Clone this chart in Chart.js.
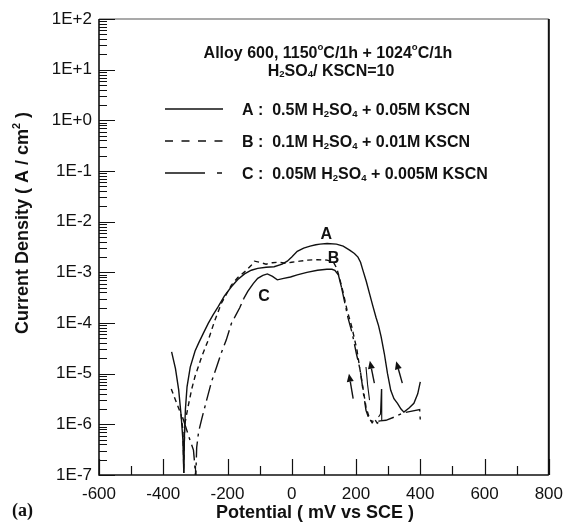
<!DOCTYPE html>
<html>
<head>
<meta charset="utf-8">
<script src="https://cdn.jsdelivr.net/npm/chart.js@4.4.0/dist/chart.umd.min.js"></script>
<style>
  html, body { margin: 0; padding: 0; background: #fff; }
  #wrap { width: 572px; height: 525px; }
</style>
</head>
<body>
<div id="wrap"><canvas id="polChart" width="572" height="525"></canvas></div>
<script>
// Potential (mV vs SCE) and current density (A/cm2)
const potentialA = [-374, -362, -352, -344, -339, -336, -334, -331, -326, -316,
  -301, -290, -275, -260, -245, -229, -210, -188, -168, -147,
  -126, -106, -80, -55, -30, -14, 0, 17, 37, 57,
  75, 88, 110, 139, 160, 180, 195, 206, 214, 221,
  232, 242, 252, 262, 270, 278, 288, 298, 308, 318,
  329, 340, 349, 365, 380, 392, 400];
const currentA = [2.7e-5, 1.26e-5, 4.8e-6, 1.4e-6, 5.0e-7, 1.1e-7, 6.3e-7, 2.0e-6, 5.5e-6, 1.35e-5,
  2.8e-5, 4.0e-5, 6.3e-5, 9.8e-5, 1.45e-4, 2.1e-4, 3.4e-4, 5.2e-4, 7.2e-4, 9.3e-4,
  1.1e-3, 1.2e-3, 1.26e-3, 1.29e-3, 1.45e-3, 1.66e-3, 2.0e-3, 2.6e-3, 3.0e-3, 3.3e-3,
  3.5e-3, 3.6e-3, 3.7e-3, 3.6e-3, 3.3e-3, 2.75e-3, 2.35e-3, 2.0e-3, 1.58e-3, 1.12e-3,
  6.6e-4, 3.8e-4, 2.2e-4, 1.3e-4, 8.9e-5, 5.4e-5, 2.5e-5, 1.0e-5, 4.7e-6, 3.2e-6,
  2.6e-6, 2.0e-6, 1.74e-6, 2.1e-6, 2.6e-6, 4.0e-6, 6.9e-6];

const potentialB = [-375, -366, -357, -345, -339, -337, -336, -335, -333, -323,
  -311, -301, -280, -260, -239, -219, -188, -168, -147, -126,
  -116, -100, -80, -60, -40, -20, 0, 25, 50, 80,
  110, 130, 140, 150, 160, 172, 187, 203, 211, 221,
  231, 242, 250, 258, 266, 275];
const currentB = [5.0e-6, 3.5e-6, 2.5e-6, 1.6e-6, 7.9e-7, 2.5e-7, 1.1e-7, 3.2e-7, 1.0e-6, 2.2e-6,
  5.1e-6, 8.9e-6, 2.2e-5, 4.6e-5, 1.15e-4, 2.45e-4, 5.6e-4, 7.9e-4, 1.02e-3, 1.38e-3,
  1.66e-3, 1.58e-3, 1.45e-3, 1.55e-3, 1.58e-3, 1.51e-3, 1.58e-3, 1.66e-3, 1.74e-3, 1.78e-3,
  1.74e-3, 1.58e-3, 1.2e-3, 7.1e-4, 4.0e-4, 1.8e-4, 8.3e-5, 2.9e-5, 1.35e-5, 5.5e-6,
  2.2e-6, 1.3e-6, 1.07e-6, 1.26e-6, 1.05e-6, 1.17e-6];

const potentialC = [-340, -330, -320, -312, -306, -302, -299, -296, -290, -280,
  -265, -250, -234, -220, -204, -188, -175, -162, -150, -137,
  -120, -106, -90, -76, -60, -45, -25, -4, 17, 47,
  80, 109, 125, 134, 145, 155, 165, 175, 188, 201,
  213, 223, 231, 242, 260, 275, 293, 320, 344, 370,
  398, 400];
const currentC = [1.38e-6, 8.9e-7, 5.6e-7, 4.0e-7, 3.1e-7, 1.6e-7, 8e-8, 3.5e-7, 7.1e-7, 1.3e-6,
  3.0e-6, 6.9e-6, 1.35e-5, 2.5e-5, 4.6e-5, 9.8e-5, 1.4e-4, 2.0e-4, 3.0e-4, 4.2e-4,
  6.0e-4, 7.6e-4, 8.7e-4, 9.3e-4, 8.3e-4, 7.1e-4, 7.6e-4, 8.1e-4, 8.9e-4, 1.0e-3,
  1.1e-3, 1.15e-3, 1.15e-3, 1.1e-3, 8.9e-4, 5.0e-4, 2.5e-4, 1.26e-4, 6.3e-5, 2.5e-5,
  1.17e-5, 4.1e-6, 1.9e-6, 1.2e-6, 1.12e-6, 1.17e-6, 1.2e-6, 1.4e-6, 1.66e-6, 1.8e-6,
  1.95e-6, 1.2e-6];

// short reverse-scan strokes near the bottom of the loops (null = break)
const potentialRev = [231, 236, 242, null, 270, 276, 279, 280];
const currentRev = [1.35e-5, 6.0e-6, 3.0e-6, null, 1.4e-6, 1.6e-6, 5.0e-6, 1.2e-6];

// axis ticks
const xTicks = [-600, -400, -200, 0, 200, 400, 600, 800];
const yTicks = [1e-7, 1e-6, 1e-5, 1e-4, 1e-3, 1e-2, 1e-1, 1e0, 1e1, 1e2];
const yTickLabels = ['1E-7', '1E-6', '1E-5', '1E-4', '1E-3', '1E-2', '1E-1', '1E+0', '1E+1', '1E+2'];

// curve letters and scan-direction arrows, in data units
const curveNames = ['A', 'B', 'C'];
const nameE = [107, 130, -86];
const nameI = [5.5e-3, 1.9e-3, 3.3e-4];
const arrowTailE = [191, 257, 344];
const arrowTailI = [3.2e-6, 6.5e-6, 6.5e-6];
const arrowHeadE = [178, 243, 325];
const arrowHeadI = [1.0e-5, 1.8e-5, 1.75e-5];

const ink = '#111';
const sans = '"Liberation Sans", Arial, Helvetica, sans-serif';
const dashB = [5, 4];
const dashC = [16, 5, 3, 5];

function pts(xs, ys) {
  return xs.map((x, i) => ({ x: x, y: ys[i] }));
}

// text with super (1) / subscript (-1) pieces
function richWidth(ctx, parts, size) {
  let w = 0;
  parts.forEach(p => {
    ctx.font = 'bold ' + (p[1] ? size * 0.6 : size) + 'px ' + sans;
    w += ctx.measureText(p[0]).width;
  });
  return w;
}
function drawRich(ctx, parts, x, y, size, align) {
  let cx = align === 'center' ? x - richWidth(ctx, parts, size) / 2 : x;
  ctx.textAlign = 'left';
  ctx.textBaseline = 'alphabetic';
  parts.forEach(p => {
    const s = p[1] ? size * 0.6 : size;
    ctx.font = 'bold ' + s + 'px ' + sans;
    let dy = 0;
    if (p[1] === 1) dy = -size * 0.45;
    if (p[1] === -1) dy = size * 0.12;
    ctx.fillText(p[0], cx, y + dy);
    cx += ctx.measureText(p[0]).width;
  });
}

const legendRows = [
  { dash: [], parts: [['A :  0.5M H', 0], ['2', -1], ['SO', 0], ['4', -1], [' + 0.05M KSCN', 0]] },
  { dash: [8, 8.5], parts: [['B :  0.1M H', 0], ['2', -1], ['SO', 0], ['4', -1], [' + 0.01M KSCN', 0]] },
  { dash: [40, 12, 5, 100], parts: [['C :  0.05M H', 0], ['2', -1], ['SO', 0], ['4', -1], [' + 0.005M KSCN', 0]] }
];

const decor = {
  id: 'decor',
  afterDraw(chart) {
    const ctx = chart.ctx;
    const xs = chart.scales.x, ys = chart.scales.y;
    const a = chart.chartArea;
    ctx.save();
    ctx.strokeStyle = ink;
    ctx.fillStyle = ink;

    // frame
    ctx.lineWidth = 1.2;
    ctx.strokeStyle = '#555';
    ctx.beginPath();
    ctx.moveTo(a.left, a.top); ctx.lineTo(a.right, a.top);
    ctx.stroke();
    ctx.strokeStyle = ink;
    ctx.lineWidth = 2;
    ctx.beginPath();
    ctx.moveTo(a.right, a.top); ctx.lineTo(a.right, a.bottom);
    ctx.stroke();
    ctx.lineWidth = 1.6;
    ctx.beginPath();
    ctx.moveTo(a.left, a.top); ctx.lineTo(a.left, a.bottom); ctx.lineTo(a.right, a.bottom);
    ctx.stroke();

    // inward ticks
    ctx.lineWidth = 1.2;
    ctx.beginPath();
    for (let v = -600; v <= 800; v += 100) {
      const px = Math.round(xs.getPixelForValue(v)) + 0.5;
      const len = v % 200 === 0 ? 16 : 9;
      ctx.moveTo(px, a.bottom); ctx.lineTo(px, a.bottom - len);
    }
    yTicks.forEach((d, i) => {
      const py = Math.round(ys.getPixelForValue(d)) + 0.5;
      ctx.moveTo(a.left, py); ctx.lineTo(a.left + 16, py);
      if (i < yTicks.length - 1) {
        for (let m = 2; m <= 9; m++) {
          const pm = Math.round(ys.getPixelForValue(d * m)) + 0.5;
          ctx.moveTo(a.left, pm); ctx.lineTo(a.left + 8, pm);
        }
      }
    });
    ctx.stroke();

    // arrows
    ctx.lineWidth = 1.4;
    arrowTailE.forEach((e, i) => {
      const x0 = xs.getPixelForValue(e), y0 = ys.getPixelForValue(arrowTailI[i]);
      const x1 = xs.getPixelForValue(arrowHeadE[i]), y1 = ys.getPixelForValue(arrowHeadI[i]);
      const ang = Math.atan2(y1 - y0, x1 - x0);
      const hl = 8, hw = 3.5;
      const bx = x1 - hl * Math.cos(ang), by = y1 - hl * Math.sin(ang);
      ctx.beginPath();
      ctx.moveTo(x0, y0); ctx.lineTo(bx, by);
      ctx.stroke();
      ctx.beginPath();
      ctx.moveTo(x1, y1);
      ctx.lineTo(bx + hw * Math.sin(ang), by - hw * Math.cos(ang));
      ctx.lineTo(bx - hw * Math.sin(ang), by + hw * Math.cos(ang));
      ctx.closePath();
      ctx.fill();
    });

    // curve letters
    ctx.font = 'bold 16px ' + sans;
    ctx.textAlign = 'center';
    ctx.textBaseline = 'middle';
    curveNames.forEach((n, i) => {
      ctx.fillText(n, xs.getPixelForValue(nameE[i]), ys.getPixelForValue(nameI[i]));
    });

    // legend block
    drawRich(ctx, [['Alloy 600, 1150', 0], ['o', 1], ['C/1h + 1024', 0], ['o', 1], ['C/1h', 0]], 328, 57.5, 16, 'center');
    drawRich(ctx, [['H', 0], ['2', -1], ['SO', 0], ['4', -1], ['/ KSCN=10', 0]], 331, 75.5, 16, 'center');
    legendRows.forEach((r, i) => {
      const y = 109 + i * 32;
      ctx.lineWidth = 1.4;
      ctx.setLineDash(r.dash);
      ctx.beginPath();
      ctx.moveTo(165, y); ctx.lineTo(223, y);
      ctx.stroke();
      ctx.setLineDash([]);
      drawRich(ctx, r.parts, 242, y + 5.7, 16, 'left');
    });

    // axis titles
    drawRich(ctx, [['Potential ( mV vs SCE )', 0]], 216, 517.5, 18, 'left');
    ctx.save();
    ctx.translate(28, 223);
    ctx.rotate(-Math.PI / 2);
    drawRich(ctx, [['Current Density ( A / cm', 0], ['2', 1], [' )', 0]], 0, 0, 18, 'center');
    ctx.restore();

    ctx.font = 'bold 18px "Liberation Serif", "Times New Roman", serif';
    ctx.textAlign = 'left';
    ctx.textBaseline = 'middle';
    ctx.fillText('(a)', 12, 511);
    ctx.restore();
  }
};

const config = {
  type: 'scatter',
  data: {
    datasets: [
      { label: 'A', data: pts(potentialA, currentA), borderColor: ink, borderWidth: 1.4 },
      { label: 'B', data: pts(potentialB, currentB), borderColor: ink, borderWidth: 1.4, borderDash: dashB },
      {
        label: 'C', data: pts(potentialC, currentC), borderColor: ink, borderWidth: 1.4,
        segment: {
          borderDash: c => (c.p0.parsed.y > 2e-4 && c.p1.parsed.y > 2e-4 && c.p0.parsed.x < 150) ? [] : dashC
        }
      },
      { label: 'rev', data: pts(potentialRev, currentRev), borderColor: ink, borderWidth: 1.1, spanGaps: false }
    ]
  },
  options: {
    responsive: false,
    animation: false,
    devicePixelRatio: 1,
    showLine: true,
    elements: { point: { radius: 0 }, line: { tension: 0, fill: false } },
    layout: { padding: { top: 19, right: 17, left: 0, bottom: 0 } },
    plugins: { legend: { display: false }, tooltip: { enabled: false } },
    scales: {
      x: {
        type: 'linear', min: -600, max: 800,
        grid: { display: false, drawTicks: false },
        border: { display: false },
        afterBuildTicks: s => { s.ticks = xTicks.map(v => ({ value: v })); },
        afterFit: s => { s.height = 50; },
        ticks: { color: ink, padding: 9, maxRotation: 0, font: { family: sans, size: 17 } }
      },
      y: {
        type: 'logarithmic', min: 1e-7, max: 100,
        grid: { display: false, drawTicks: false },
        border: { display: false },
        afterBuildTicks: s => { s.ticks = yTicks.map(v => ({ value: v })); },
        afterFit: s => { s.width = 99; },
        ticks: {
          color: ink, padding: 7, font: { family: sans, size: 17 },
          callback: (v, i) => yTickLabels[i]
        }
      }
    }
  },
  plugins: [decor]
};

const polChart = new Chart(document.getElementById('polChart'), config);
</script>
</body>
</html>
